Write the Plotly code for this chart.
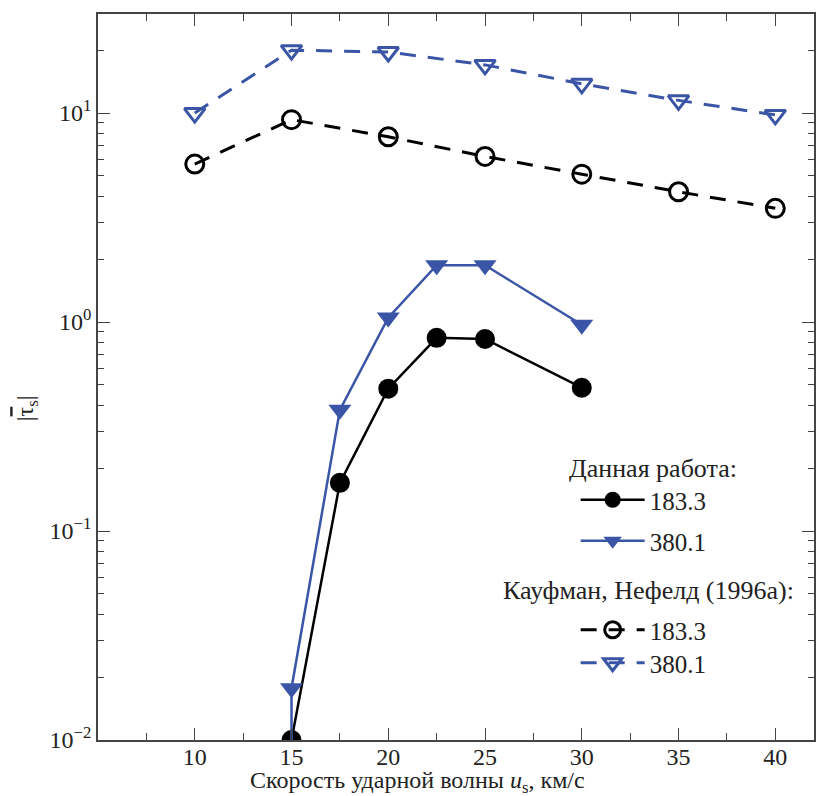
import plotly.graph_objects as go

# ---- data ----
x_this_183 = [15, 17.5, 20, 22.5, 25, 30]
tau_this_183 = [0.01, 0.17, 0.48, 0.84, 0.83, 0.485]
x_this_380 = [15, 15, 17.5, 20, 22.5, 25, 30]
tau_this_380 = [0.004, 0.0177, 0.38, 1.05, 1.87, 1.87, 0.97]
x_kn = [10, 15, 20, 25, 30, 35, 40]
tau_kn_183 = [5.7, 9.3, 7.7, 6.2, 5.1, 4.2, 3.5]
tau_kn_380 = [10.0, 20.0, 19.6, 17.0, 13.8, 11.5, 9.8]

x_ticks = [10, 15, 20, 25, 30, 35, 40]
x_minor = [7.5, 12.5, 17.5, 22.5, 27.5, 32.5, 37.5, 42.5]
y_ticks = [0.01, 0.1, 1, 10]
y_ticktext = ["10<sup>−2</sup>", "10<sup>−1</sup>", "10<sup>0</sup>", "10<sup>1</sup>"]
legend_names = ["183.3", "380.1"]
group_titles = ["Данная работа:", "Кауфман, Нефелд (1996а):"]
x_title = "Скорость ударной волны <i>u</i><sub>s</sub>, км/с"
y_title = "|<span style='text-decoration:overline'>τ</span><sub>s</sub>|"

BLUE = "#3a55a6"
FONT = "Liberation Serif"
TXT = "#222"

y_minor = [k * 10 ** n for n in range(-2, 2) for k in range(2, 10)]

fig = go.Figure()
fig.add_trace(go.Scatter(
    x=x_this_183, y=tau_this_183, mode="lines+markers", name=legend_names[0],
    line=dict(color="black", width=2.5),
    marker=dict(symbol="circle", size=20, color="black"),
    legend="legend"))
fig.add_trace(go.Scatter(
    x=x_this_380, y=tau_this_380, mode="lines+markers", name=legend_names[1],
    line=dict(color=BLUE, width=2.5),
    marker=dict(symbol="triangle-down", size=20, color=BLUE),
    legend="legend2"))
fig.add_trace(go.Scatter(
    x=x_kn, y=tau_kn_183, mode="lines+markers", name=legend_names[0],
    line=dict(color="black", width=3, dash="16px,12px"),
    marker=dict(symbol="circle-open", size=18, color="black", line=dict(width=3)),
    legend="legend3"))
fig.add_trace(go.Scatter(
    x=x_kn, y=tau_kn_380, mode="lines+markers", name=legend_names[1],
    line=dict(color=BLUE, width=3, dash="16px,12px"),
    marker=dict(symbol="triangle-down-open", size=18, color=BLUE, line=dict(width=3)),
    legend="legend4"))

L, T, B = 98, 14, 56
W, H = 816, 796
pw = W - L
ph = H - T - B


def px_x(px):
    return (px - L) / pw


def px_y(py):
    return (H - B - py) / ph


leg_common = dict(font=dict(family=FONT, size=25, color=TXT), bgcolor="rgba(0,0,0,0)",
                  xanchor="left", yanchor="middle", itemwidth=64, borderwidth=0)
LX = 577
fig.update_layout(
    legend=dict(x=px_x(LX), y=px_y(500), **leg_common),
    legend2=dict(x=px_x(LX), y=px_y(541), **leg_common),
    legend3=dict(x=px_x(LX), y=px_y(630), **leg_common),
    legend4=dict(x=px_x(LX), y=px_y(663), **leg_common),
)

fig.add_annotation(text=group_titles[0], xref="paper", yref="paper",
                   x=px_x(655), y=px_y(468), showarrow=False,
                   xanchor="center", yanchor="middle",
                   font=dict(family=FONT, size=26, color=TXT))
fig.add_annotation(text=group_titles[1], xref="paper", yref="paper",
                   x=px_x(650), y=px_y(590), showarrow=False,
                   xanchor="center", yanchor="middle",
                   font=dict(family=FONT, size=26, color=TXT))
fig.add_annotation(text=x_title,
                   xref="paper", yref="paper", x=px_x(418), y=px_y(782),
                   xanchor="center", yanchor="middle",
                   showarrow=False, font=dict(family=FONT, size=24, color=TXT))
fig.add_annotation(text=y_title, xref="paper", yref="paper",
                   x=px_x(27), y=px_y(408), showarrow=False, textangle=-90,
                   xanchor="center", yanchor="middle",
                   font=dict(family=FONT, size=24, color=TXT))

axis_line = dict(showline=True, linecolor="#444", linewidth=1.5, mirror="ticks",
                 ticks="inside", tickcolor="#444", tickwidth=1.3, ticklen=12,
                 showgrid=False, zeroline=False,
                 tickfont=dict(family=FONT, size=24, color=TXT))

fig.update_xaxes(range=[5, 42.0], tickmode="array", tickvals=x_ticks,
                 ticklabelstandoff=-6,
                 minor=dict(tickmode="array", tickvals=x_minor, ticks="inside",
                            ticklen=7, tickcolor="#444", tickwidth=1.3, showgrid=False),
                 **axis_line)
fig.update_yaxes(type="log", range=[-2, 1.474], tickmode="array", tickvals=y_ticks,
                 ticktext=y_ticktext,
                 minor=dict(tickmode="array", tickvals=y_minor, ticks="inside",
                            ticklen=6, tickcolor="#444", tickwidth=1.3, showgrid=False),
                 **axis_line)

fig.update_layout(
    width=W, height=H,
    margin=dict(l=L, r=0, t=T, b=B, pad=0),
    paper_bgcolor="white", plot_bgcolor="white",
    showlegend=True,
    font=dict(family=FONT, size=22, color=TXT),
)

fig.write_html("out.html")
